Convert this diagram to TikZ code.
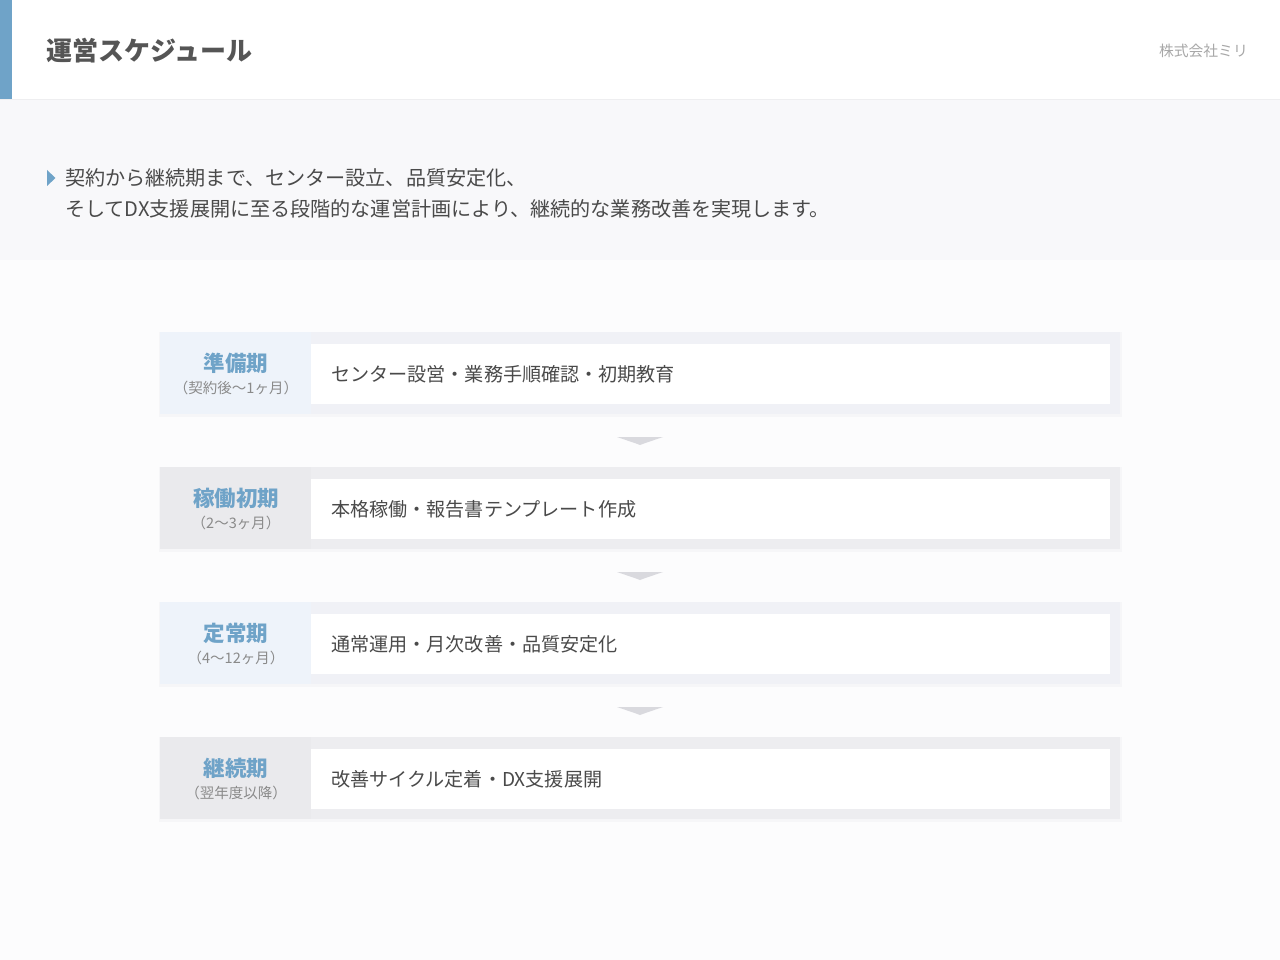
\documentclass[tikz,border=0pt]{standalone}
\usepackage{fontspec}
\setmainfont{Noto Sans CJK JP}
\usetikzlibrary{calc}
\definecolor{accent}{HTML}{6FA3C8}
\definecolor{pagebg}{HTML}{FCFCFD}
\definecolor{introbg}{HTML}{F8F8FA}
\definecolor{headline}{HTML}{EEEEF0}
\definecolor{titlec}{HTML}{555555}
\definecolor{companyc}{HTML}{A8A8A8}
\definecolor{bodyc}{HTML}{4A4A4A}
\definecolor{subc}{HTML}{8A8A8A}
\definecolor{outerblue}{HTML}{F0F1F6}
\definecolor{outergray}{HTML}{EDEDF0}
\definecolor{lblblue}{HTML}{EEF3FA}
\definecolor{lblgray}{HTML}{EAEAED}
\definecolor{shadowc}{HTML}{F6F6F8}
\definecolor{chevc}{HTML}{D9D9DE}
\tikzset{
  rowbox/.style={minimum width=960pt, minimum height=82pt, inner sep=0pt, draw=none},
  whitebox/.style={fill=white, minimum width=799pt, minimum height=60pt, inner sep=0pt, draw=none},
  phasetitle/.style={font=\bfseries\fontsize{21.5}{24}\selectfont, text=accent, inner sep=0pt},
  phasesub/.style={font=\fontsize{14.5}{17}\selectfont, text=subc, inner sep=0pt},
  rowtext/.style={font=\fontsize{19.1}{22}\selectfont, text=bodyc, anchor=west, inner sep=0pt},
  introtext/.style={font=\fontsize{20.1}{24}\selectfont, text=bodyc, anchor=west, inner sep=0pt},
  chevron/.style={fill=chevc, draw=none}
}
\begin{document}
\begin{tikzpicture}[x=1pt,y=-1pt]
\useasboundingbox (0,0) rectangle (1280,960);
\fill[pagebg] (0,0) rectangle (1280,960);
\fill[white] (0,0) rectangle (1280,99);
\draw[headline, line width=1pt] (0,99.5) -- (1280,99.5);
\fill[accent] (0,0) rectangle (12,99);
\fill[introbg] (0,100) rectangle (1280,260);
\node[anchor=west, font=\bfseries\fontsize{26}{30}\selectfont, text=titlec, inner sep=0pt] (title) at (46,51) {運営スケジュール};
\node[anchor=east, font=\fontsize{14.8}{17}\selectfont, text=companyc, inner sep=0pt] (company) at (1248,51) {株式会社ミリ};
\fill[accent] (47,170) -- (55.5,178) -- (47,186) -- cycle;
\node[introtext] (intro1) at (65,178) {契約から継続期まで、センター設立、品質安定化、};
\node[introtext] (intro2) at (65,209) {そしてDX支援展開に至る段階的な運営計画により、継続的な業務改善を実現します。};

\foreach \i/\T/\out/\lbl/\ttl/\sub/\txt in {
  1/332/outerblue/lblblue/準備期/（契約後〜1ヶ月）/センター設営・業務手順確認・初期教育,
  2/467/outergray/lblgray/稼働初期/（2〜3ヶ月）/本格稼働・報告書テンプレート作成,
  3/602/outerblue/lblblue/定常期/（4〜12ヶ月）/通常運用・月次改善・品質安定化,
  4/737/outergray/lblgray/継続期/（翌年度以降）/改善サイクル定着・DX支援展開}{
  \fill[shadowc] (159,\T) rectangle (1122,\T+85);
  \node[rowbox, fill=\out] (row\i) at (640,\T+41) {};
  \fill[\lbl] (row\i.north west) rectangle ($(row\i.south west)+(151,0)$);
  \node[whitebox] (box\i) at (710.5,\T+42) {};
  \node[phasetitle] (ttl\i) at (236,\T+31) {\ttl};
  \node[phasesub] (sub\i) at (236,\T+56) {\sub};
  \node[rowtext] (txt\i) at (331,\T+42) {\txt};
}
\foreach \a/\b in {1/2,2/3,3/4}{
  \coordinate (chev\a) at ($(row\a.south)!0.5!(row\b.north)$);
  \fill[chevron] ($(chev\a)+(-23,-3.5)$) -- ($(chev\a)+(23,-3.5)$) -- ($(chev\a)+(4,3)$) -- ($(chev\a)+(0,4.5)$) -- ($(chev\a)+(-4,3)$) -- cycle;
}
\end{tikzpicture}
\end{document}
